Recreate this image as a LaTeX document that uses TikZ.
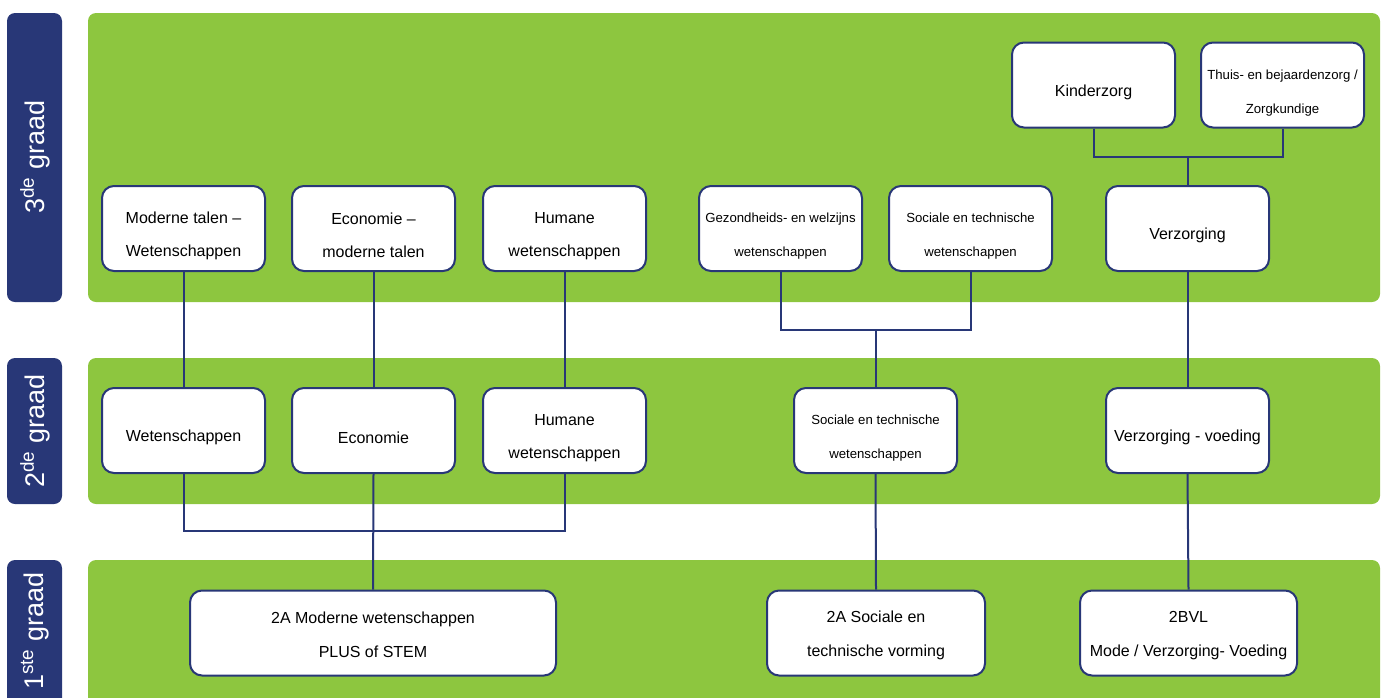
\documentclass[tikz,border=0pt]{standalone}
\usepackage{fontspec}
\setmainfont{Liberation Sans}
\usepackage{xcolor}
\definecolor{gradgroen}{HTML}{8DC63F}
\definecolor{gradblauw}{HTML}{283777}

\begin{document}
\begin{tikzpicture}[x=0.5pt, y=-0.5pt,
	band/.style={fill=gradgroen, rounded corners=4pt},
	graadlabel/.style={fill=gradblauw, rounded corners=4pt},
	graadtext/.style={text=white, rotate=90, font=\fontsize{13.5}{15}\selectfont},
	box/.style={draw=gradblauw, line width=1pt, fill=white, rounded corners=6pt,
		minimum width=81.5pt, minimum height=42.5pt, inner sep=1pt, align=center,
		font=\fontsize{8}{16.5}\selectfont,
		execute at begin node={\rule{0pt}{13pt}}},
	zweibox/.style={box, execute at begin node={\rule{0pt}{29.5pt}}},
	kleinbox/.style={box, font=\fontsize{6.6}{17}\selectfont,
		execute at begin node={\rule{0pt}{29.5pt}}},
	basisbox/.style={box, font=\fontsize{8}{17}\selectfont,
		execute at begin node={\rule{0pt}{25pt}}},
	verb/.style={draw=gradblauw, line width=1pt}]
	\useasboundingbox (0,0) rectangle (1385,697);
	\clip (0,0) rectangle (1385,697);
	% linke labels
	\fill[graadlabel] (7,13) rectangle (62,302);
	\fill[graadlabel] (7,358) rectangle (62,504);
	\fill[graadlabel] (7,560) rectangle (62,720);
	\node[graadtext] (l3) at (35,157) {3\textsuperscript{de} graad};
	\node[graadtext] (l2) at (35,431) {2\textsuperscript{de} graad};
	\node[graadtext] (l1) at (35,631) {1\textsuperscript{ste} graad};
	% gruene baender
	\fill[band] (88,13) rectangle (1380,302);
	\fill[band] (88,358) rectangle (1380,504);
	\fill[band] (88,560) rectangle (1380,720);
	% 3de graad
	\node[zweibox] (mtw3) at (183.5,228.5) {Moderne talen --\\Wetenschappen};
	\node[zweibox] (emt3) at (373.5,228.5) {Economie --\\moderne talen};
	\node[zweibox] (hum3) at (564.5,228.5) {Humane\\wetenschappen};
	\node[kleinbox] (gez3) at (780.5,228.5) {Gezondheids- en welzijns\\wetenschappen};
	\node[kleinbox] (stw3) at (970.5,228.5) {Sociale en technische\\wetenschappen};
	\node[box] (verz3) at (1187.5,228.5) {Verzorging};
	\node[box] (kind3) at (1093.5,85) {Kinderzorg};
	\node[kleinbox] (thuis3) at (1282.5,85) {Thuis- en bejaardenzorg /\\Zorgkundige};
	% 2de graad
	\node[box] (wet2) at (183.5,430.5) {Wetenschappen};
	\node[box] (eco2) at (373.5,430.5) {Economie};
	\node[zweibox] (hum2) at (564.5,430.5) {Humane\\wetenschappen};
	\node[kleinbox] (stw2) at (875.5,430.5) {Sociale en technische\\wetenschappen};
	\node[box] (vv2) at (1187.5,430.5) {Verzorging - voeding};
	% 1ste graad
	\node[basisbox, minimum width=183pt] (mod1) at (373,633) {2A Moderne wetenschappen\\PLUS of STEM};
	\node[basisbox, minimum width=109pt] (soc1) at (876,633) {2A Sociale en\\technische vorming};
	\node[basisbox, minimum width=108.5pt] (bvl1) at (1188.5,633) {2BVL\\Mode / Verzorging- Voeding};
	% verbindungen
	\coordinate (jstw) at (875.5,330);
	\coordinate (jverz) at (1187.5,157);
	\coordinate (jwet) at (373.5,531);
	\draw[verb] (mtw3.south) -- (wet2.north);
	\draw[verb] (emt3.south) -- (eco2.north);
	\draw[verb] (hum3.south) -- (hum2.north);
	\draw[verb] (gez3.south) |- (jstw) -| (stw3.south);
	\draw[verb] (jstw) -- (stw2.north);
	\draw[verb] (kind3.south) |- (jverz) -| (thuis3.south);
	\draw[verb] (jverz) -- (verz3.north);
	\draw[verb] (verz3.south) -- (vv2.north);
	\draw[verb] (wet2.south) |- (jwet) -| (hum2.south);
	\draw[verb] (eco2.south) -- (mod1.north);
	\draw[verb] (stw2.south) -- (soc1.north);
	\draw[verb] (vv2.south) -- (bvl1.north);
\end{tikzpicture}
\end{document}
